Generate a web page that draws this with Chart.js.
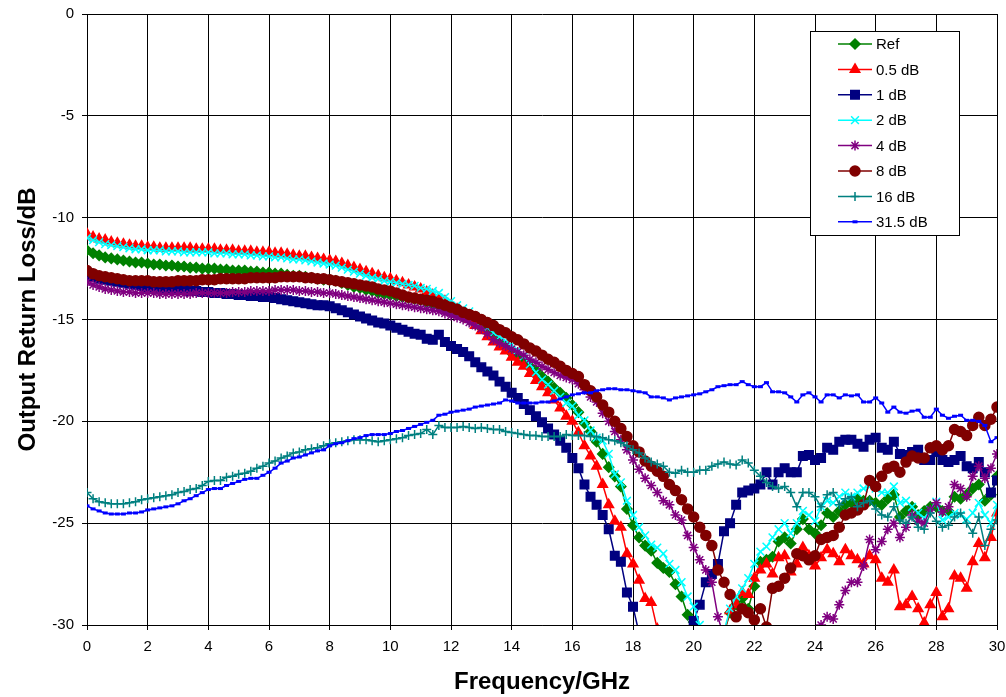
<!DOCTYPE html>
<html>
<head>
<meta charset="utf-8">
<script src="https://cdn.jsdelivr.net/npm/chart.js@4.4.1/dist/chart.umd.min.js"></script>
<style>
html,body{margin:0;padding:0;background:#fff;}
#wrap{width:1006px;height:697px;}
</style>
</head>
<body>
<div id="wrap"><canvas id="c" width="1006" height="697"></canvas></div>
<script>
// Frequency grid (GHz), sampled every 0.2 GHz
const freqGHz = Array.from({length: 151}, (_, i) => Math.round(i * 2) / 10);

const seriesNames = ['Ref', '0.5 dB', '1 dB', '2 dB', '4 dB', '8 dB', '16 dB', '31.5 dB'];

const ref = [
-11.6,-11.75,-11.85,-11.95,-12.0,-12.05,-12.1,-12.15,-12.2,-12.2,
-12.25,-12.3,-12.3,-12.35,-12.35,-12.4,-12.4,-12.45,-12.45,-12.5,
-12.5,-12.5,-12.55,-12.55,-12.6,-12.6,-12.6,-12.65,-12.65,-12.7,
-12.7,-12.75,-12.75,-12.8,-12.85,-12.85,-12.9,-12.95,-13.0,-13.05,
-13.05,-13.1,-13.2,-13.3,-13.4,-13.45,-13.55,-13.6,-13.7,-13.75,
-13.8,-13.85,-13.9,-13.95,-14.0,-14.05,-14.15,-14.25,-14.35,-14.45,
-14.55,-14.7,-14.85,-15.0,-15.2,-15.4,-15.6,-15.85,-16.1,-16.35,
-16.65,-16.85,-17.05,-17.3,-17.5,-17.8,-18.05,-18.35,-18.6,-18.85,
-19.2,-19.55,-20.1,-20.5,-21.0,-21.6,-22.25,-22.7,-23.2,-24.3,
-25.1,-25.7,-26.1,-26.35,-26.95,-27.2,-27.4,-28.0,-28.6,-29.5,
-29.85,-30.6,-31.3,-31.8,-31.6,-30.4,-29.4,-29.0,-28.7,-29.2,
-28.1,-26.9,-26.8,-26.65,-25.9,-25.7,-26.0,-25.3,-24.8,-25.3,
-25.5,-25.1,-24.5,-24.7,-24.4,-24.1,-24.0,-23.8,-23.9,-23.9,
-24.0,-24.1,-23.8,-23.6,-24.7,-24.4,-24.2,-24.6,-24.4,-24.2,
-24.2,-24.4,-24.4,-23.7,-23.8,-23.6,-23.3,-23.1,-23.9,-23.6,
-22.7];

const att05 = [
-10.8,-10.95,-11.05,-11.1,-11.2,-11.25,-11.3,-11.35,-11.4,-11.4,
-11.45,-11.45,-11.5,-11.5,-11.5,-11.5,-11.5,-11.5,-11.55,-11.55,
-11.55,-11.55,-11.6,-11.6,-11.6,-11.65,-11.65,-11.65,-11.7,-11.7,
-11.7,-11.75,-11.75,-11.8,-11.85,-11.9,-11.9,-11.95,-12.0,-12.05,
-12.1,-12.15,-12.25,-12.35,-12.45,-12.55,-12.65,-12.75,-12.85,-12.95,
-13.0,-13.1,-13.2,-13.3,-13.4,-13.5,-13.65,-13.8,-13.95,-14.1,
-14.3,-14.5,-14.75,-15.0,-15.3,-15.55,-15.85,-16.1,-16.35,-16.55,
-16.85,-17.1,-17.3,-17.65,-18.0,-18.3,-18.6,-18.95,-19.35,-19.75,
-20.0,-20.55,-21.2,-21.7,-22.2,-23.1,-24.1,-24.9,-25.2,-26.5,
-27.0,-27.8,-28.7,-28.9,-30.2,-31.0,-31.8,-32.4,-32.9,-33.2,
-33.3,-33.0,-32.5,-31.9,-31.2,-30.4,-29.3,-29.0,-28.4,-28.5,
-27.7,-27.3,-27.0,-27.5,-26.7,-26.6,-27.4,-27.0,-26.2,-26.6,
-27.1,-26.7,-26.3,-26.5,-26.9,-26.3,-26.6,-26.8,-27.0,-26.6,
-26.8,-27.7,-27.9,-27.3,-29.1,-29.0,-28.6,-29.2,-29.9,-29.0,
-28.4,-29.6,-29.2,-27.6,-27.7,-28.2,-26.9,-26.0,-26.7,-25.7,
-24.5];

const att1 = [
-12.8,-12.9,-13.0,-13.05,-13.1,-13.15,-13.2,-13.25,-13.3,-13.35,
-13.4,-13.4,-13.45,-13.5,-13.5,-13.55,-13.55,-13.6,-13.6,-13.65,
-13.65,-13.7,-13.7,-13.75,-13.75,-13.8,-13.8,-13.85,-13.85,-13.9,
-13.9,-13.95,-14.0,-14.05,-14.1,-14.15,-14.2,-14.25,-14.3,-14.3,
-14.35,-14.45,-14.55,-14.65,-14.75,-14.85,-14.95,-15.05,-15.15,-15.2,
-15.3,-15.4,-15.5,-15.6,-15.7,-15.75,-15.95,-16.0,-15.75,-16.1,
-16.3,-16.45,-16.6,-16.8,-17.1,-17.35,-17.55,-17.75,-18.05,-18.3,
-18.6,-18.85,-19.15,-19.45,-19.75,-20.05,-20.35,-20.65,-20.95,-21.3,
-21.8,-22.3,-23.1,-23.7,-24.1,-24.6,-25.3,-26.6,-26.9,-28.4,
-29.1,-30.4,-31.5,-32.5,-33.3,-33.8,-33.9,-33.5,-32.6,-31.2,
-29.8,-29.0,-27.9,-27.5,-27.0,-25.4,-25.0,-24.1,-23.5,-23.4,
-23.3,-23.1,-22.5,-23.1,-22.5,-22.3,-22.5,-22.5,-21.7,-21.65,
-21.9,-21.8,-21.3,-21.4,-21.0,-20.9,-20.9,-21.1,-21.25,-20.9,
-20.8,-21.3,-21.4,-21.0,-21.6,-21.65,-21.5,-21.4,-21.9,-21.9,
-21.5,-21.9,-22.0,-21.9,-21.7,-22.2,-22.3,-22.0,-22.5,-23.5,
-22.9];

const att2 = [
-11.0,-11.1,-11.2,-11.3,-11.35,-11.4,-11.45,-11.5,-11.55,-11.55,
-11.6,-11.6,-11.6,-11.65,-11.65,-11.65,-11.7,-11.7,-11.7,-11.7,
-11.7,-11.75,-11.75,-11.75,-11.8,-11.8,-11.8,-11.85,-11.85,-11.9,
-11.9,-11.95,-11.95,-12.0,-12.05,-12.05,-12.1,-12.15,-12.2,-12.25,
-12.3,-12.35,-12.45,-12.55,-12.65,-12.75,-12.85,-12.95,-13.0,-13.1,
-13.15,-13.2,-13.25,-13.3,-13.35,-13.45,-13.5,-13.6,-13.7,-13.9,
-14.1,-14.3,-14.45,-14.6,-14.85,-15.1,-15.4,-15.65,-15.85,-16.05,
-16.25,-16.5,-16.8,-17.2,-17.6,-17.95,-18.2,-18.5,-18.8,-19.1,
-19.25,-19.7,-19.95,-20.45,-20.8,-20.95,-21.6,-22.6,-23.0,-23.9,
-24.6,-25.2,-25.6,-26.05,-26.2,-26.5,-27.0,-27.3,-27.9,-28.6,
-29.1,-30.0,-30.8,-31.4,-31.2,-30.3,-29.2,-28.6,-28.2,-27.7,
-27.0,-26.4,-26.15,-25.7,-25.3,-25.0,-25.5,-25.0,-24.4,-24.6,
-24.9,-24.2,-23.9,-24.0,-23.7,-23.5,-23.7,-23.5,-23.3,-23.2,
-23.3,-23.5,-23.5,-23.2,-24.0,-23.9,-24.2,-24.5,-24.75,-24.35,
-23.95,-24.85,-24.7,-24.5,-24.6,-24.8,-24.5,-24.0,-24.6,-25.0,
-24.1];

const att4 = [
-13.15,-13.3,-13.4,-13.5,-13.55,-13.6,-13.65,-13.65,-13.7,-13.7,
-13.7,-13.7,-13.75,-13.75,-13.75,-13.75,-13.75,-13.75,-13.7,-13.7,
-13.7,-13.7,-13.7,-13.7,-13.65,-13.65,-13.65,-13.6,-13.6,-13.6,
-13.6,-13.55,-13.55,-13.55,-13.55,-13.6,-13.6,-13.65,-13.65,-13.7,
-13.7,-13.75,-13.8,-13.85,-13.9,-13.95,-14.0,-14.05,-14.1,-14.15,
-14.2,-14.25,-14.3,-14.35,-14.4,-14.45,-14.5,-14.55,-14.6,-14.7,
-14.8,-14.9,-15.0,-15.15,-15.3,-15.45,-15.7,-16.0,-16.15,-16.3,
-16.45,-16.6,-16.75,-16.95,-17.1,-17.3,-17.45,-17.6,-17.75,-17.85,
-17.95,-18.15,-18.45,-18.8,-19.05,-19.6,-20.0,-20.5,-20.9,-21.4,
-21.9,-22.35,-22.8,-23.15,-23.5,-23.9,-24.1,-24.6,-24.85,-25.6,
-26.2,-26.8,-27.3,-27.9,-29.6,-30.6,-31.5,-32.3,-33.0,-33.5,
-33.8,-34.0,-34.0,-33.8,-33.4,-32.9,-32.3,-31.7,-31.2,-30.8,
-30.4,-30.0,-29.6,-29.7,-29.0,-28.3,-27.9,-27.9,-27.1,-25.8,
-26.3,-25.9,-25.3,-25.0,-25.7,-25.2,-24.6,-24.9,-25.0,-24.35,
-24.0,-24.45,-24.2,-23.1,-23.3,-23.7,-22.7,-22.2,-22.8,-22.3,
-21.6];

const att8 = [
-12.6,-12.75,-12.85,-12.9,-12.95,-13.0,-13.05,-13.1,-13.1,-13.1,
-13.1,-13.15,-13.15,-13.15,-13.15,-13.1,-13.1,-13.1,-13.1,-13.05,
-13.05,-13.05,-13.0,-13.0,-13.0,-13.0,-13.0,-12.95,-12.95,-12.95,
-12.95,-12.95,-12.9,-12.9,-12.9,-12.9,-12.95,-12.95,-13.0,-13.0,
-13.05,-13.1,-13.15,-13.2,-13.25,-13.3,-13.35,-13.4,-13.5,-13.55,
-13.6,-13.7,-13.8,-13.9,-13.95,-14.0,-14.05,-14.1,-14.2,-14.3,
-14.4,-14.5,-14.65,-14.75,-14.85,-15.0,-15.15,-15.3,-15.5,-15.65,
-15.85,-16.0,-16.2,-16.4,-16.55,-16.75,-16.95,-17.1,-17.3,-17.5,
-17.65,-17.8,-18.2,-18.5,-18.8,-19.2,-19.55,-20.0,-20.35,-20.75,
-21.2,-21.5,-21.95,-22.2,-22.45,-22.7,-23.1,-23.4,-23.85,-24.3,
-24.7,-25.2,-25.6,-26.1,-27.3,-27.9,-28.5,-29.6,-29.2,-29.4,
-29.75,-29.2,-30.1,-28.2,-28.1,-27.7,-27.2,-26.5,-26.6,-26.8,
-26.6,-25.8,-25.7,-25.6,-25.2,-24.6,-24.5,-24.35,-24.1,-22.9,
-23.2,-22.7,-22.3,-22.2,-22.5,-22.0,-21.7,-21.8,-21.8,-21.3,
-21.2,-21.4,-21.2,-20.4,-20.5,-20.7,-20.2,-19.8,-20.2,-19.9,
-19.3];

const att16 = [
-23.5,-23.8,-23.95,-24.0,-24.05,-24.05,-24.05,-24.0,-23.95,-23.85,
-23.8,-23.75,-23.7,-23.65,-23.6,-23.5,-23.45,-23.35,-23.3,-23.15,
-22.95,-22.9,-22.9,-22.75,-22.7,-22.6,-22.55,-22.45,-22.3,-22.2,
-22.05,-21.95,-21.8,-21.7,-21.55,-21.5,-21.4,-21.35,-21.3,-21.2,
-21.1,-21.05,-21.0,-20.95,-20.9,-20.9,-20.9,-20.95,-21.0,-20.95,
-20.9,-20.85,-20.8,-20.7,-20.65,-20.6,-20.4,-20.65,-20.2,-20.3,
-20.3,-20.3,-20.25,-20.3,-20.35,-20.3,-20.35,-20.4,-20.4,-20.5,
-20.55,-20.6,-20.65,-20.7,-20.7,-20.75,-20.75,-20.75,-20.75,-20.65,
-20.7,-20.7,-20.7,-20.75,-20.75,-20.8,-20.9,-20.95,-21.05,-21.2,
-21.4,-21.55,-21.8,-22.0,-22.1,-22.2,-22.5,-22.55,-22.4,-22.5,
-22.5,-22.4,-22.4,-22.2,-22.1,-22.0,-22.1,-22.15,-21.9,-22.05,
-22.4,-22.7,-23.0,-23.2,-23.3,-23.2,-23.5,-24.2,-23.5,-23.5,
-23.7,-24.2,-23.6,-23.5,-24.1,-23.8,-23.7,-24.2,-24.0,-23.9,
-24.3,-24.6,-24.7,-24.2,-24.85,-25.0,-24.7,-25.2,-25.3,-24.5,
-24.9,-25.2,-25.1,-24.7,-24.5,-25.0,-25.5,-24.7,-26.1,-25.3,
-24.85];

const att315 = [
-24.15,-24.3,-24.4,-24.5,-24.55,-24.55,-24.55,-24.5,-24.5,-24.45,
-24.35,-24.3,-24.25,-24.2,-24.15,-24.05,-23.9,-23.8,-23.65,-23.5,
-23.35,-23.3,-23.3,-23.15,-23.05,-22.95,-22.85,-22.8,-22.8,-22.65,
-22.5,-22.3,-22.05,-21.95,-21.8,-21.75,-21.65,-21.55,-21.45,-21.4,
-21.2,-21.1,-21.05,-20.95,-20.85,-20.8,-20.7,-20.65,-20.65,-20.65,
-20.6,-20.5,-20.45,-20.35,-20.25,-20.15,-20.05,-19.95,-19.7,-19.65,
-19.55,-19.5,-19.45,-19.4,-19.3,-19.25,-19.2,-19.15,-19.1,-18.95,
-19.0,-19.1,-19.1,-19.1,-19.1,-19.05,-19.05,-19.0,-18.9,-18.8,
-18.7,-18.65,-18.6,-18.6,-18.5,-18.45,-18.4,-18.4,-18.45,-18.45,
-18.5,-18.55,-18.6,-18.8,-18.8,-18.85,-18.95,-18.85,-18.8,-18.75,
-18.7,-18.65,-18.55,-18.45,-18.3,-18.25,-18.2,-18.2,-18.05,-18.2,
-18.3,-18.3,-18.1,-18.55,-18.55,-18.6,-18.8,-19.05,-18.7,-18.6,
-18.8,-19.05,-18.7,-18.7,-18.85,-18.7,-18.75,-18.7,-19.05,-19.05,
-18.85,-19.1,-19.55,-19.3,-19.55,-19.6,-19.5,-19.45,-19.8,-19.8,
-19.4,-19.7,-19.85,-19.75,-19.7,-19.95,-19.95,-20.0,-20.2,-21.0,
-20.8];

const xTicks = {min: 0, max: 30, step: 2};
const yTicks = {min: -30, max: 0, step: 5};

const allValues = [ref, att05, att1, att2, att4, att8, att16, att315];
const styles = [
  {color: '#008000', point: 'rectRot', r: 5},
  {color: '#FF0000', point: 'triangle', r: 5.5},
  {color: '#000080', point: 'rect', r: 6},
  {color: '#00FFFF', point: 'crossRot', r: 5.5},
  {color: '#800080', point: 'star', r: 5},
  {color: '#800000', point: 'circle', r: 5},
  {color: '#008080', point: 'cross', r: 4.5},
  {color: '#0000FF', point: 'line', r: 2.5}
];

const FONT = "'Liberation Sans', Arial, Helvetica, sans-serif";

const datasets = allValues.map((vals, k) => {
  const s = styles[k];
  return {
    label: seriesNames[k],
    data: vals.map((v, i) => ({x: freqGHz[i], y: v})),
    borderColor: s.color,
    backgroundColor: s.color,
    borderWidth: 1.5,
    pointStyle: s.point,
    pointRadius: s.r,
    pointBackgroundColor: s.color,
    pointBorderColor: s.color,
    pointBorderWidth: s.point === 'line' ? 3 : 1.5,
    tension: 0,
    fill: false,
    order: 10 - k
  };
});

const boxLegend = {
  id: 'boxLegend',
  afterDraw(chart) {
    const ctx = chart.ctx;
    ctx.save();
    const x0 = 810, y0 = 31, w = 149, h = 204;
    ctx.fillStyle = '#fff';
    ctx.fillRect(x0, y0, w, h);
    ctx.strokeStyle = '#000';
    ctx.lineWidth = 1;
    ctx.strokeRect(x0 + 0.5, y0 + 0.5, w, h);
    chart.data.datasets.forEach((ds, i) => {
      const y = 44 + i * 25.4;
      ctx.strokeStyle = ds.borderColor;
      ctx.lineWidth = ds.borderWidth;
      ctx.beginPath();
      ctx.moveTo(838, y);
      ctx.lineTo(872, y);
      ctx.stroke();
      ctx.fillStyle = ds.pointBackgroundColor;
      ctx.strokeStyle = ds.pointBorderColor;
      ctx.lineWidth = ds.pointBorderWidth;
      Chart.helpers.drawPoint(ctx, {
        pointStyle: ds.pointStyle,
        radius: ds.pointRadius,
        borderWidth: ds.pointBorderWidth,
        rotation: 0
      }, 855, y);
      ctx.fillStyle = '#000';
      ctx.font = '15px ' + FONT;
      ctx.textAlign = 'left';
      ctx.textBaseline = 'middle';
      ctx.fillText(ds.label, 876, y + 1);
    });
    ctx.restore();
  }
};

new Chart(document.getElementById('c'), {
  type: 'line',
  data: {datasets},
  plugins: [boxLegend],
  options: {
    responsive: false,
    animation: false,
    events: [],
    layout: {padding: {left: 0, right: 9, top: 14, bottom: 0}},
    plugins: {
      legend: {display: false},
      tooltip: {enabled: false},
      title: {display: false}
    },
    scales: {
      x: {
        type: 'linear',
        min: xTicks.min,
        max: xTicks.max,
        afterFit(scale) {
          scale.height = 72;
          scale.paddingLeft = 0;
          scale.paddingRight = 0;
        },
        ticks: {
          stepSize: xTicks.step,
          color: '#000',
          padding: 8,
          maxRotation: 0,
          autoSkip: false,
          font: {family: FONT, size: 15}
        },
        grid: {color: '#000', lineWidth: 1, tickLength: 5, tickColor: '#000', drawTicks: true},
        border: {display: true, color: '#000', width: 1},
        title: {
          display: true,
          text: 'Frequency/GHz',
          color: '#000',
          padding: {top: 0, bottom: 0},
          font: {family: FONT, size: 24, weight: 'bold'}
        }
      },
      y: {
        type: 'linear',
        min: yTicks.min,
        max: yTicks.max,
        afterFit(scale) {
          scale.width = 87;
          scale.paddingTop = 0;
          scale.paddingBottom = 0;
        },
        ticks: {
          stepSize: yTicks.step,
          color: '#000',
          padding: 8,
          font: {family: FONT, size: 15}
        },
        grid: {color: '#000', lineWidth: 1, tickLength: 5, tickColor: '#000', drawTicks: true},
        border: {display: true, color: '#000', width: 1},
        title: {
          display: true,
          text: 'Output Return Loss/dB',
          color: '#000',
          padding: {top: 14, bottom: 0},
          font: {family: FONT, size: 24, weight: 'bold'}
        }
      }
    }
  }
});
</script>
</body>
</html>
